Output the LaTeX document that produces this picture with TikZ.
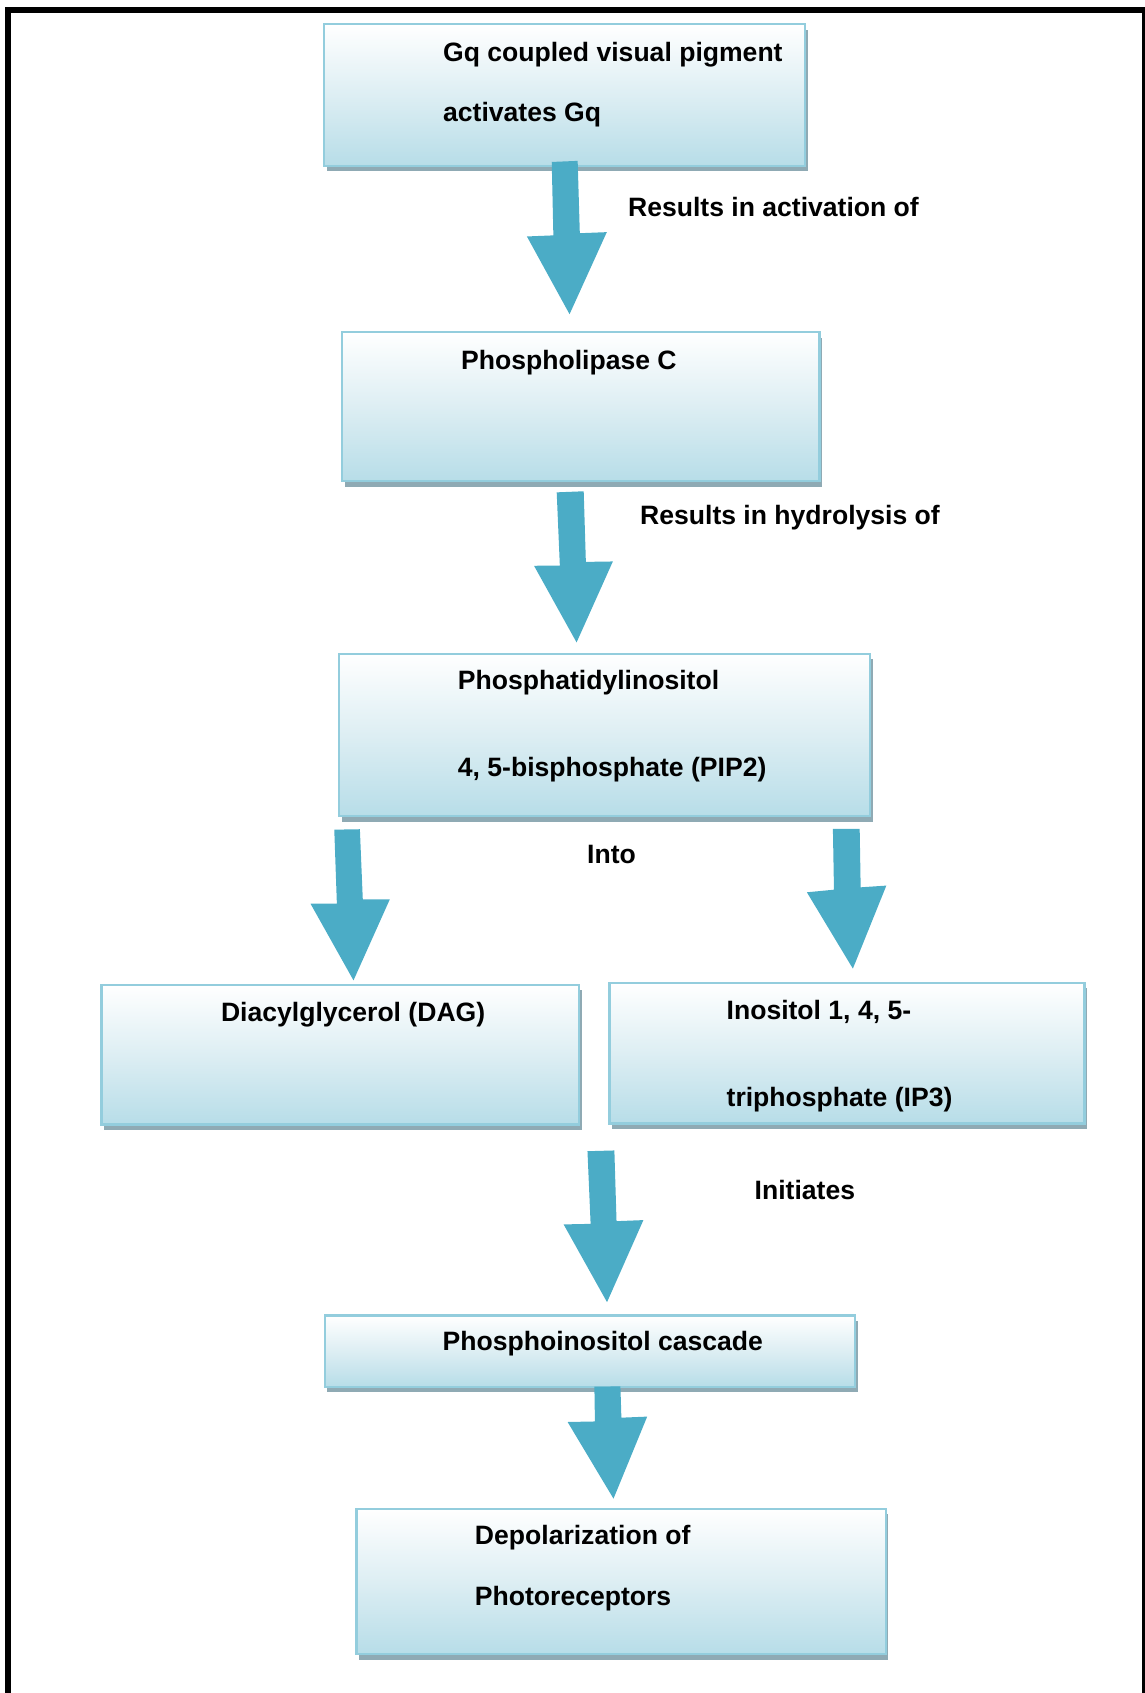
\documentclass[tikz,border=0pt]{standalone}
\usepackage{fontspec}
\setmainfont{Liberation Sans}
\usetikzlibrary{fit,shadows}
\definecolor{arrowc}{HTML}{4BACC6}
\definecolor{boxline}{HTML}{93CDDD}
\definecolor{boxbot}{HTML}{B7DDE8}
\definecolor{boxmid}{HTML}{DDEEF3}
\definecolor{shadowc}{HTML}{8FAAB4}
\begin{document}
\begin{tikzpicture}[x=0.5pt,y=-0.5pt,
  box/.style={draw=boxline, line width=1pt, inner sep=0pt,
    top color=white, bottom color=boxbot, middle color=boxmid,
    drop shadow={shadow xshift=1.25pt, shadow yshift=-2.5pt, fill=shadowc, opacity=1}},
  lbl/.style={anchor=base west, inner sep=0pt, font=\fontsize{12.3}{14}\selectfont\bfseries},
  blk/.style={fill=arrowc}]
\useasboundingbox (0,0) rectangle (1060,1568);
% frame
\draw[line width=2.75pt, line join=miter] (7.4,1575) -- (7.4,9) -- (1060,9) -- (1060,1575);

% boxes
\coordinate (b1a) at (300.2,22.5);  \coordinate (b1b) at (745.6,153.7);
\coordinate (b2a) at (317,307.8);   \coordinate (b2b) at (759,445.7);
\coordinate (b3a) at (314.2,605.5); \coordinate (b3b) at (805.6,756);
\coordinate (b4a) at (94,911.9);    \coordinate (b4b) at (536.2,1041.5);
\coordinate (b5a) at (564.5,910.3); \coordinate (b5b) at (1004.4,1040.6);
\coordinate (b6a) at (300.8,1218.3);\coordinate (b6b) at (792.2,1284.3);
\coordinate (b7a) at (330.2,1397.5);\coordinate (b7b) at (820.2,1532);
\node[box, fit=(b1a)(b1b)] (b1) {};
\node[box, fit=(b2a)(b2b)] (b2) {};
\node[box, fit=(b3a)(b3b)] (b3) {};
\node[box, fit=(b4a)(b4b)] (b4) {};
\node[box, fit=(b5a)(b5b)] (b5) {};
\node[box, fit=(b6a)(b6b)] (b6) {};
\node[box, fit=(b7a)(b7b)] (b7) {};

% texts in boxes
\node[lbl] (t1a) at (410,56.5) {Gq coupled visual pigment};
\node[lbl] (t1b) at (410,112.6) {activates Gq};
\node[lbl] (t2) at (426.7,342.3) {Phospholipase C};
\node[lbl] (t3a) at (423.7,638.8) {Phosphatidylinositol};
\node[lbl] (t3b) at (423.7,719) {4, 5-bisphosphate (PIP2)};
\node[lbl] (t4) at (204.3,945.8) {Diacylglycerol (DAG)};
\node[lbl] (t5a) at (672.6,944.3) {Inositol 1, 4, 5-};
\node[lbl] (t5b) at (672.6,1024.5) {triphosphate (IP3)};
\node[lbl] (t6) at (409.6,1250.4) {Phosphoinositol cascade};
\node[lbl] (t7a) at (439.5,1430.3) {Depolarization of};
\node[lbl] (t7b) at (439.5,1486.8) {Photoreceptors};

% arrow labels
\node[lbl] (l1) at (581.3,200.6) {Results in activation of};
\node[lbl] (l2) at (592.5,485.9) {Results in hydrolysis of};
\node[lbl] (l3) at (543.4,799.9) {Into};
\node[lbl] (l4) at (698.6,1110.9) {Initiates};

% block arrows
\fill[blk] (511,150) -- (535,149) -- (537,216) -- (562,215) -- (527.5,291) -- (488,219) -- (512.5,218) -- cycle;
\fill[blk] (515.6,456) -- (540.6,455) -- (542.6,520.4) -- (567.6,520) -- (534,595) -- (494.6,524) -- (518.5,523.8) -- cycle;
\fill[blk] (309.6,768.4) -- (333.3,768) -- (336,833) -- (361,833) -- (327.4,908) -- (287.6,837) -- (312,837) -- cycle;
\fill[blk] (771.4,767.7) -- (796.2,767.7) -- (797.1,821.8) -- (820.9,820.2) -- (789.9,897.1) -- (747.3,826.4) -- (772.4,824) -- cycle;
\fill[blk] (544.1,1066.2) -- (569,1065.5) -- (571,1131) -- (595.9,1130) -- (562.2,1206) -- (522,1134) -- (547,1133.5) -- cycle;
\fill[blk] (550.5,1284.3) -- (574.6,1284) -- (575.5,1313) -- (599.4,1312) -- (568.2,1388) -- (525.7,1317) -- (551,1316.5) -- cycle;
\end{tikzpicture}
\end{document}
